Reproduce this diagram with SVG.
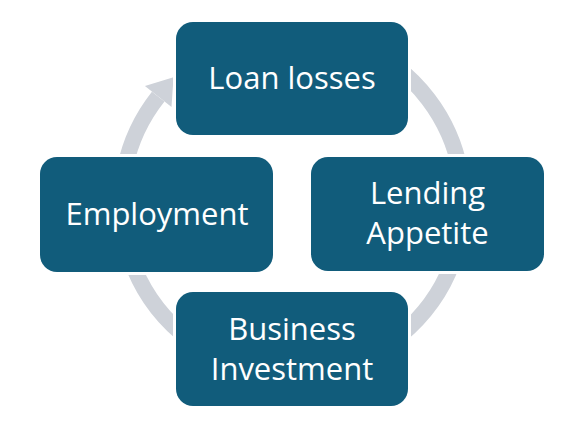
<svg xmlns="http://www.w3.org/2000/svg" width="583" height="436" viewBox="0 0 583 436">
  <style>
    .box { fill: #115C7B; stroke: #FFFFFF; stroke-width: 6; paint-order: stroke; }
    .lbl { fill: #FFFFFF; font-family: "Open Sans", "Liberation Sans", sans-serif; font-size: 31px; text-anchor: middle; }
    .ring { fill: none; stroke: #CED2D9; stroke-width: 16; }
    .head { fill: #CED2D9; }
  </style>
  <rect width="583" height="436" fill="#FFFFFF"/>
  <g id="connectors">
    <path class="ring" d="M193.9,62.9 A171,171 0 1 1 158.2,96.6"/>
    <polygon class="head" points="144.9,86.0 173.5,77.3 171.5,107.1"/>
  </g>
  <g id="loan-losses">
    <rect class="box" x="176" y="22" width="232" height="113" rx="17"/>
    <text class="lbl" x="292" y="89">Loan losses</text>
  </g>
  <g id="lending-appetite">
    <rect class="box" x="311" y="157" width="233" height="114" rx="17"/>
    <text class="lbl" x="427.5" y="204">Lending</text>
    <text class="lbl" x="427.5" y="244">Appetite</text>
  </g>
  <g id="business-investment">
    <rect class="box" x="176" y="292" width="232" height="114" rx="17"/>
    <text class="lbl" x="292" y="340">Business</text>
    <text class="lbl" x="292" y="380">Investment</text>
  </g>
  <g id="employment">
    <rect class="box" x="40" y="157" width="233" height="115" rx="17"/>
    <text class="lbl" x="157" y="225">Employment</text>
  </g>
</svg>
